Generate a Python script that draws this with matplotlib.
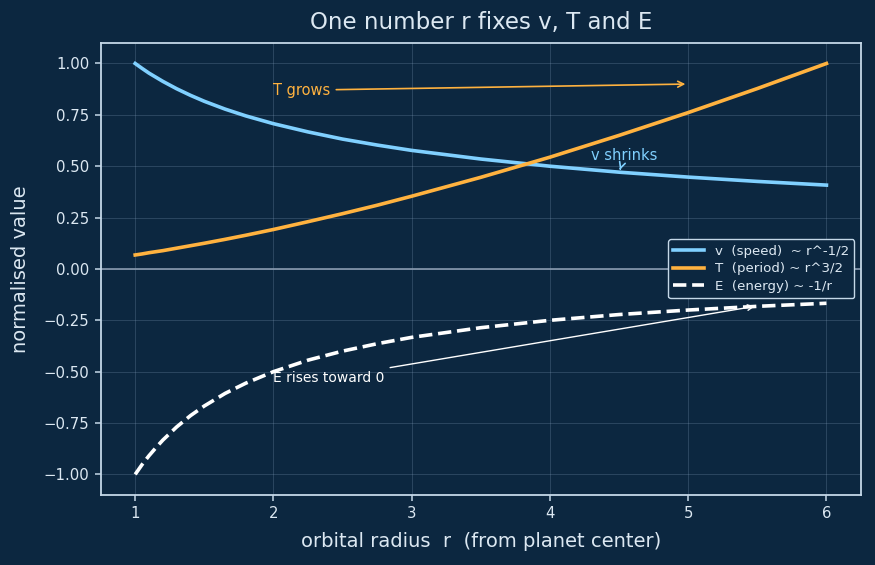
import matplotlib
matplotlib.use('Agg')
import matplotlib.pyplot as plt

# orbital radius samples and normalised values
r = [1.0, 1.05, 1.1, 1.15, 1.2, 1.3, 1.4, 1.5, 1.65, 1.8, 2.0, 2.25, 2.5,
     2.75, 3.0, 3.5, 4.0, 4.5, 5.0, 5.5, 6.0]
v_speed = [1.000, 0.976, 0.953, 0.933, 0.913, 0.877, 0.845, 0.816, 0.778,
           0.745, 0.707, 0.667, 0.632, 0.603, 0.577, 0.535, 0.500, 0.471,
           0.447, 0.426, 0.408]
T_period = [0.068, 0.073, 0.079, 0.084, 0.089, 0.101, 0.113, 0.125, 0.144,
            0.164, 0.192, 0.230, 0.269, 0.310, 0.354, 0.446, 0.544, 0.650,
            0.761, 0.878, 1.000]
E_energy = [-1.000, -0.952, -0.909, -0.870, -0.833, -0.769, -0.714, -0.667,
            -0.606, -0.556, -0.500, -0.444, -0.400, -0.364, -0.333, -0.286,
            -0.250, -0.222, -0.200, -0.182, -0.167]

bg = '#0c2740'
fg = '#dce8f2'
edge = '#c5d8e8'
c_v = '#80d0ff'
c_T = '#ffb23f'
c_E = '#ffffff'

fig, ax = plt.subplots(figsize=(8.75, 5.65), dpi=100)
fig.patch.set_facecolor(bg)
ax.set_facecolor(bg)

ax.axhline(0, color='#8a9bb0', lw=1.2, zorder=1)
ax.plot(r, v_speed, color=c_v, lw=2.6, label='v  (speed)  ~ r^-1/2', zorder=3)
ax.plot(r, T_period, color=c_T, lw=2.6, label='T  (period) ~ r^3/2', zorder=3)
ax.plot(r, E_energy, color=c_E, lw=2.6, ls='--', label='E  (energy) ~ -1/r', zorder=3)

ax.annotate('T grows', xy=(5.0, 0.90), xytext=(2.0, 0.87), color=c_T,
            fontsize=10.5, va='center',
            arrowprops=dict(arrowstyle='->', color=c_T, lw=1.2))
ax.annotate('v shrinks', xy=(4.5, 0.47), xytext=(4.3, 0.55), color=c_v,
            fontsize=10.5, va='center',
            arrowprops=dict(arrowstyle='->', color=c_v, lw=1.2))
ax.annotate('E rises toward 0', xy=(5.5, -0.18), xytext=(2.0, -0.53),
            color=c_E, fontsize=10, va='center',
            arrowprops=dict(arrowstyle='->', color=c_E, lw=1.0))

ax.set_ylim(-1.1, 1.1)
ax.set_yticks([-1.0, -0.75, -0.5, -0.25, 0.0, 0.25, 0.5, 0.75, 1.0])
ax.set_xticks([1, 2, 3, 4, 5, 6])
ax.grid(True, color='#8aa4c0', alpha=0.25, lw=0.7)
ax.set_axisbelow(True)

for s in ax.spines.values():
    s.set_color(edge)
    s.set_linewidth(1.3)
ax.tick_params(colors=edge, labelcolor=fg, labelsize=10.7, length=4.5, width=1.1)

ax.set_title('One number r fixes v, T and E', color=fg, fontsize=16.5, pad=10)
ax.set_xlabel('orbital radius  r  (from planet center)', color=fg, fontsize=14,
              labelpad=8)
ax.set_ylabel('normalised value', color=fg, fontsize=14, labelpad=10)

leg = ax.legend(loc='center right', fontsize=9.6, facecolor=bg,
                edgecolor=edge, framealpha=1.0, labelspacing=0.35,
                handlelength=2.3)
for t in leg.get_texts():
    t.set_color(fg)

plt.subplots_adjust(left=0.115, right=0.984, top=0.924, bottom=0.124)
plt.savefig('out.png', dpi=100, facecolor=bg)
